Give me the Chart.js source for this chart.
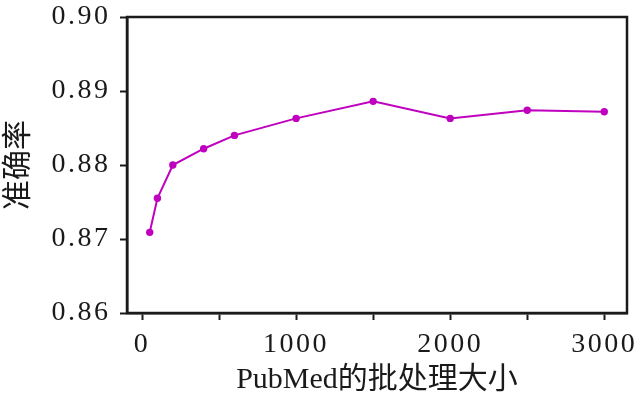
<!DOCTYPE html>
<html>
<head>
<meta charset="utf-8">
<script src="https://cdn.jsdelivr.net/npm/chart.js@4.4.1/dist/chart.umd.min.js"></script>
<style>
  html, body { margin: 0; padding: 0; background: #fff; }
  #wrap { width: 642px; height: 396px; position: relative; }
</style>
</head>
<body>
<div id="wrap"><canvas id="c"></canvas></div>
<script>
// Data
const batchSizes = [50, 100, 200, 400, 600, 1000, 1500, 2000, 2500, 3000];
const accuracy   = [0.8709, 0.8755, 0.8800, 0.8822, 0.8840, 0.8863, 0.8886, 0.8863, 0.8874, 0.8872];
const xTickValues = [0, 500, 1000, 1500, 2000, 2500, 3000];
const xTickLabels = ['0', '', '1000', '', '2000', '', '3000'];
const yTickValues = [0.86, 0.87, 0.88, 0.89, 0.90];
const yTickLabels = ['0.86', '0.87', '0.88', '0.89', '0.90'];
const xTitle = 'PubMed的批处理大小';
const yTitle = '准确率';

const SERIF = '"Liberation Serif", "Noto Sans CJK SC", serif';
const INK = '#1a1a1a';

const boxPlugin = {
  id: 'box',
  beforeDraw(chart) {
    Object.values(chart.scales).forEach(s => {
      if (!s._wrappedLabels) {
        const orig = s.drawLabels;
        s.drawLabels = function (a) {
          const ctx = this.ctx;
          ctx.save();
          ctx.letterSpacing = '2.5px';
          orig.call(this, a);
          ctx.restore();
        };
        s._wrappedLabels = true;
      }
    });
  },
  afterDraw(chart) {
    const { ctx, chartArea: a } = chart;
    ctx.save();
    ctx.strokeStyle = INK;
    ctx.lineWidth = 2.5;
    ctx.strokeRect(a.left, a.top, a.right - a.left, a.bottom - a.top);
    ctx.restore();
  }
};

new Chart(document.getElementById('c'), {
  type: 'line',
  data: {
    datasets: [{
      data: batchSizes.map((x, i) => ({ x: x, y: accuracy[i] })),
      borderColor: '#bf00bf',
      backgroundColor: '#bf00bf',
      borderWidth: 2,
      pointRadius: 3.7,
      pointBorderWidth: 0,
      pointHoverRadius: 3.7,
      tension: 0,
      fill: false
    }]
  },
  options: {
    responsive: true,
    maintainAspectRatio: false,
    animation: false,
    events: [],
    layout: { padding: { left: 0, top: 17, right: 15, bottom: 0 } },
    plugins: { legend: { display: false }, tooltip: { enabled: false } },
    scales: {
      x: {
        type: 'linear',
        min: -97.5,
        max: 3147.5,
        afterBuildTicks(s) { s.ticks = xTickValues.map(v => ({ value: v })); },
        afterFit(s) { s.height = 83; s.paddingLeft = 0; s.paddingRight = 0; },
        ticks: {
          autoSkip: false,
          maxRotation: 0,
          padding: 8,
          color: INK,
          font: { family: SERIF, size: 28 },
          callback(v) { const i = xTickValues.indexOf(v); return i >= 0 ? xTickLabels[i] : ''; }
        },
        grid: { display: true, drawOnChartArea: false, drawTicks: true, tickLength: 7, tickWidth: 2, tickColor: INK },
        border: { display: true, color: INK, width: 2.5 },
        title: {
          display: true,
          text: xTitle,
          color: INK,
          font: { family: SERIF, size: 30, lineHeight: 1.0 },
          padding: { top: 0, bottom: 1 }
        }
      },
      y: {
        type: 'linear',
        min: 0.86,
        max: 0.90,
        afterBuildTicks(s) { s.ticks = yTickValues.map(v => ({ value: v })); },
        afterFit(s) { s.width = 127; s.paddingTop = 0; s.paddingBottom = 0; },
        ticks: {
          padding: 9.5,
          color: INK,
          font: { family: SERIF, size: 28 },
          callback(v) {
            const i = yTickValues.findIndex(t => Math.abs(t - v) < 1e-9);
            return i >= 0 ? yTickLabels[i] : '';
          }
        },
        grid: { display: true, drawOnChartArea: false, drawTicks: true, tickLength: 7, tickWidth: 2, tickColor: INK },
        border: { display: true, color: INK, width: 2.5 },
        title: {
          display: true,
          text: yTitle,
          color: INK,
          font: { family: SERIF, size: 30, lineHeight: 1.2 },
          padding: { top: 1, bottom: 0 }
        }
      }
    }
  },
  plugins: [boxPlugin]
});
</script>
</body>
</html>
